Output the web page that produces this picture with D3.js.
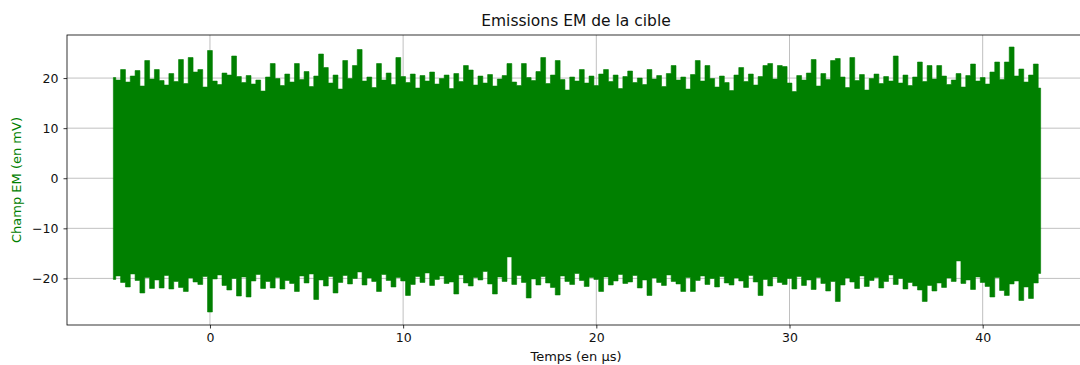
<!DOCTYPE html>
<html>
<head>
<meta charset="utf-8">
<script src="https://cdn.jsdelivr.net/npm/d3@7/dist/d3.min.js"></script>
<style>
  html, body { margin: 0; padding: 0; background: #fff; }
  svg { display: block; }
  text { font-family: "DejaVu Sans", sans-serif; }
</style>
</head>
<body>
<svg id="chart" width="1080" height="365"></svg>
<script>
// ---- Data ----
const chartTitle = "Emissions EM de la cible";
const xLabel = "Temps (en µs)";
const yLabel = "Champ EM (en mV)";
const tStart = -5;       // µs, first sample
const tStep = 0.25;      // µs between envelope samples
const xTicks = [0, 10, 20, 30, 40];
const yTicks = [-20, -10, 0, 10, 20];
const xLimits = [-7.4, 45.4];
const yLimits = [-29.3, 28.6];

// upper peaks of the signal (mV), one per 0.25 µs from -5 µs to 43 µs
const upperPeaks = [
  20.1, 19.6, 21.7, 19.2, 20.4, 21.5, 18.4, 23.5, 19.8, 21.7,
  19.5, 18.6, 20.9, 19.3, 23.7, 18.9, 24.1, 21.2, 21.7, 18.2,
  25.5, 19.4, 18.7, 21.0, 20.6, 24.4, 20.3, 19.1, 20.5, 18.8,
  19.6, 17.4, 20.2, 22.9, 19.9, 18.5, 20.8, 19.2, 22.9, 19.7,
  21.3, 18.3, 20.4, 24.8, 22.1, 19.0, 20.6, 17.8, 23.5, 19.9,
  22.5, 25.7, 19.4, 20.2, 18.1, 22.9, 19.6, 21.0, 18.7, 24.1,
  20.3, 19.1, 20.8, 18.0, 20.5, 19.4, 21.2, 18.8, 19.9, 20.6,
  17.9, 20.9, 19.3, 22.5, 21.6, 18.6, 20.4, 19.0, 20.7, 18.4,
  19.8, 20.5, 22.9, 19.2, 18.5, 22.9, 20.1, 19.5, 21.3, 24.1,
  18.9, 20.6, 23.5, 19.7, 17.6, 20.2, 19.4, 21.7, 19.0, 20.4,
  18.5, 20.8, 21.7, 19.3, 20.6, 17.9, 20.3, 21.4, 19.1, 20.0,
  18.7, 21.7, 19.8, 20.5, 18.3, 20.9, 22.5, 19.6, 20.2, 17.8,
  20.7, 23.5, 19.4, 22.5, 19.9, 18.2, 20.4, 19.1, 17.5, 20.6,
  22.1, 19.3, 20.8, 18.6, 20.3, 22.5, 22.9, 19.8, 22.5, 22.3,
  19.0, 17.3, 20.5, 19.6, 21.0, 23.7, 18.4, 20.9, 19.7, 23.5,
  23.9, 20.2, 18.1, 24.1, 19.5, 20.7, 17.6, 19.9, 20.8, 18.9,
  20.3, 19.4, 24.4, 19.0, 20.6, 18.5, 20.2, 23.2, 19.3, 22.5,
  19.8, 22.5, 20.4, 18.7, 19.6, 20.9, 18.2, 20.5, 22.8, 19.4,
  20.1, 18.8, 21.2, 23.2, 19.7, 23.2, 26.2, 20.4, 21.8, 19.2,
  20.6, 22.8, 18.0
];

// lower peaks of the signal (mV), same time grid
const lowerPeaks = [
  -20.2, -19.5, -20.8, -21.7, -19.1, -20.4, -22.9, -19.8, -22.0, -20.3,
  -21.9, -19.4, -22.1, -20.6, -21.8, -22.6, -19.9, -20.7, -21.2, -19.6,
  -26.7, -20.1, -19.3, -21.4, -22.3, -20.0, -23.5, -19.7, -23.7, -20.5,
  -19.2, -22.0, -20.6, -21.9, -19.8, -22.1, -20.4, -21.0, -22.6, -19.5,
  -20.9, -19.1, -24.2, -20.3, -21.5, -19.6, -22.9, -20.8, -19.4, -21.1,
  -20.0, -18.7, -21.3, -19.9, -20.6, -22.6, -19.2, -20.4, -21.7, -19.8,
  -20.5, -23.4, -21.2, -19.6, -20.8, -18.9, -21.4, -20.2, -19.5, -21.0,
  -20.7, -23.1, -19.3, -20.9, -21.5, -19.8, -20.3, -18.6, -21.1, -23.1,
  -19.7, -20.6, -15.7, -21.2, -19.4, -20.8, -23.9, -20.1, -21.3, -19.6,
  -20.9, -21.8, -23.3, -19.5, -20.6, -21.2, -19.0, -20.4, -21.6, -19.8,
  -20.2, -22.6, -19.7, -21.3, -20.5, -19.2, -21.0, -20.7, -19.4, -21.9,
  -20.3, -23.4, -19.9, -20.8, -21.4, -19.3, -20.6, -21.1, -22.6, -19.8,
  -22.6, -20.4, -19.5, -21.2, -20.0, -21.7, -19.6, -20.9, -21.3, -19.9,
  -20.5, -21.8, -19.4, -20.7, -23.4, -20.2, -21.5, -19.7, -20.8, -21.2,
  -20.0, -22.1, -19.6, -21.4, -20.3, -22.2, -19.8, -21.0, -22.5, -20.6,
  -24.6, -21.3, -19.9, -20.7, -22.0, -19.5, -21.6, -20.4, -19.8, -21.9,
  -20.6, -19.3, -21.2, -20.0, -22.1, -20.8, -21.5, -22.3, -24.6, -21.4,
  -22.5, -20.9, -21.8, -19.9, -20.6, -16.5, -21.0, -20.3, -22.2, -19.7,
  -20.8, -21.6, -23.7, -19.8, -22.4, -23.4, -21.1, -20.5, -24.4, -21.7,
  -24.0, -20.9, -19.0
];

// ---- Layout ----
const plot = { left: 67, top: 35, right: 1087, bottom: 325 };
const green = "#008000";

const svg = d3.select("#chart");

const x = d3.scaleLinear().domain(xLimits).range([plot.left, plot.right]);
const y = d3.scaleLinear().domain(yLimits).range([plot.bottom, plot.top]);

// clip
svg.append("defs").append("clipPath").attr("id", "clip")
  .append("rect")
  .attr("x", plot.left).attr("y", plot.top)
  .attr("width", plot.right - plot.left).attr("height", plot.bottom - plot.top);

// grid
const grid = svg.append("g").attr("clip-path", "url(#clip)");
grid.selectAll(".gx").data(xTicks).join("line")
  .attr("x1", d => x(d)).attr("x2", d => x(d))
  .attr("y1", plot.top).attr("y2", plot.bottom)
  .attr("stroke", "#b0b0b0").attr("stroke-width", 0.8);
grid.selectAll(".gy").data(yTicks).join("line")
  .attr("x1", plot.left).attr("x2", plot.right)
  .attr("y1", d => y(d)).attr("y2", d => y(d))
  .attr("stroke", "#b0b0b0").attr("stroke-width", 0.8);

// signal envelope: dense trace drawn as the band between lower and upper peaks
const samples = upperPeaks.map((u, i) => ({ t: tStart + i * tStep, hi: u, lo: lowerPeaks[i] }));
const area = d3.area()
  .curve(d3.curveStep)
  .x(d => x(d.t))
  .y0(d => y(d.lo))
  .y1(d => y(d.hi));
svg.append("path")
  .attr("clip-path", "url(#clip)")
  .attr("d", area(samples))
  .attr("fill", green)
  .attr("stroke", green)
  .attr("stroke-width", 0.6)
  .attr("stroke-linejoin", "round");

// axes
const fmt = d3.format("d");
const xAxis = d3.axisBottom(x).tickValues(xTicks).tickFormat(fmt).tickSize(3.5).tickPadding(5);
const yAxis = d3.axisLeft(y).tickValues(yTicks).tickFormat(fmt).tickSize(3.5).tickPadding(5);

const gx = svg.append("g").attr("transform", `translate(0,${plot.bottom})`).call(xAxis);
const gy = svg.append("g").attr("transform", `translate(${plot.left},0)`).call(yAxis);
[gx, gy].forEach(g => {
  g.select(".domain").remove();
  g.selectAll(".tick line").attr("stroke", "#000").attr("stroke-width", 0.8);
  g.selectAll(".tick text").attr("fill", "#111").attr("font-size", 12.5)
    .attr("font-family", "DejaVu Sans, sans-serif");
});

// spines
svg.append("rect")
  .attr("x", plot.left).attr("y", plot.top)
  .attr("width", plot.right - plot.left).attr("height", plot.bottom - plot.top)
  .attr("fill", "none").attr("stroke", "#000").attr("stroke-width", 0.8);

// title & labels
svg.append("text")
  .attr("x", 576).attr("y", 26)
  .attr("text-anchor", "middle").attr("font-size", 15.5)
  .attr("fill", "#111").text(chartTitle);

svg.append("text")
  .attr("x", 576).attr("y", 361)
  .attr("text-anchor", "middle").attr("font-size", 13)
  .attr("fill", "#111").text(xLabel);

svg.append("text")
  .attr("transform", `translate(21,${(plot.top + plot.bottom) / 2}) rotate(-90)`)
  .attr("text-anchor", "middle").attr("font-size", 13)
  .attr("fill", green).text(yLabel);
</script>
</body>
</html>
